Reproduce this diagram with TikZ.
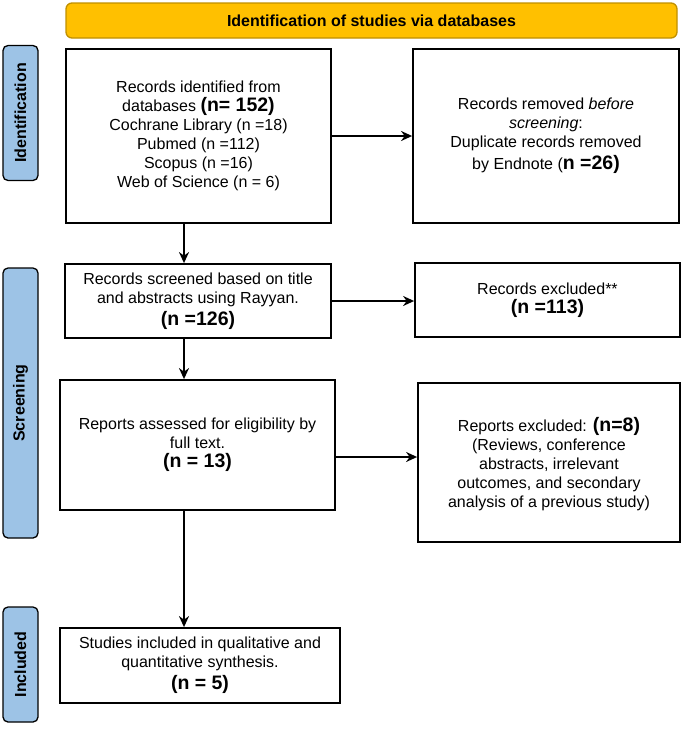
\documentclass[tikz,border=0pt]{standalone}
\usepackage{fontspec}
\setmainfont{Liberation Sans}
\usetikzlibrary{arrows.meta}
\definecolor{bannerfill}{HTML}{FFC000}
\definecolor{bannerline}{HTML}{C09000}
\definecolor{phasefill}{HTML}{9DC3E6}
\newcommand{\nb}[1]{{\fontsize{19.5}{22}\selectfont\bfseries\rule{0pt}{18pt}#1}}

\begin{document}
\begin{tikzpicture}[x=1pt,y=-1pt,
	box/.style={draw,line width=1.8pt,align=center,inner sep=0pt,font=\fontsize{16}{19}\selectfont},
	phase/.style={draw,line width=1.3pt,rounded corners=5pt,fill=phasefill,rotate=90,minimum height=35pt,font=\fontsize{16}{19}\selectfont\bfseries},
	arr/.style={line width=1.8pt,-{Stealth[length=11pt,width=10pt]}}]
	\useasboundingbox (0,0) rectangle (685,731);
	\node[draw=bannerline,line width=1.3pt,fill=bannerfill,rounded corners=6pt,minimum width=611pt,minimum height=35pt,font=\fontsize{16}{19}\selectfont\bfseries] (banner) at (371.5,20.5) {Identification of studies via databases};
	\node[phase,minimum width=135pt] (idlab) at (20.5,113) {Identification};
	\node[phase,minimum width=270pt] (scrlab) at (20.5,403) {Screening};
	\node[phase,minimum width=115pt] (inclab) at (20.5,664.5) {Included};
	\node[box,minimum width=265pt,minimum height=174pt] (ident) at (198.5,136) {Records identified from\\ databases \nb{(n= 152)}\\ Cochrane Library (n =18)\\ Pubmed (n =112)\\ Scopus (n =16)\\ Web of Science (n = 6)};
	\node[box,minimum width=266pt,minimum height=174pt] (removed) at (546,136) {Records removed \textit{before}\\ \textit{screening}:\\ Duplicate records removed\\ by Endnote (\nb{n =26)}};
	\node[box,minimum width=266pt,minimum height=74pt] (screened) at (198,301) {Records screened based on title\\ and abstracts using Rayyan.\\ \nb{(n =126)}};
	\node[box,minimum width=265pt,minimum height=74pt] (excluded) at (547.5,300) {Records excluded**\\ \nb{(n =113)}};
	\node[box,minimum width=275pt,minimum height=130pt] (assessed) at (197.5,445) {Reports assessed for eligibility by\\ full text.\\ \nb{(n = 13)}};
	\node[box,minimum width=262pt,minimum height=159pt] (reportsex) at (549,462.5) {Reports excluded: \nb{(n=8)}\\ (Reviews, conference\\ abstracts, irrelevant\\ outcomes, and secondary\\ analysis of a previous study)};
	\node[box,minimum width=280pt,minimum height=75pt] (included) at (200,665.5) {Studies included in qualitative and\\ quantitative synthesis.\\ \nb{(n = 5)}};
	\coordinate (spine) at (184,0);
	\draw[arr] (ident) -- (removed);
	\draw[arr] (screened.east) -- (screened.east -| excluded.west);
	\draw[arr] ([yshift=-12pt]assessed.east) -- ([yshift=-12pt]assessed.east -| reportsex.west);
	\draw[arr] (ident.south -| spine) -- (screened.north -| spine);
	\draw[arr] (screened.south -| spine) -- (assessed.north -| spine);
	\draw[arr] (assessed.south -| spine) -- (included.north -| spine);
\end{tikzpicture}
\end{document}
